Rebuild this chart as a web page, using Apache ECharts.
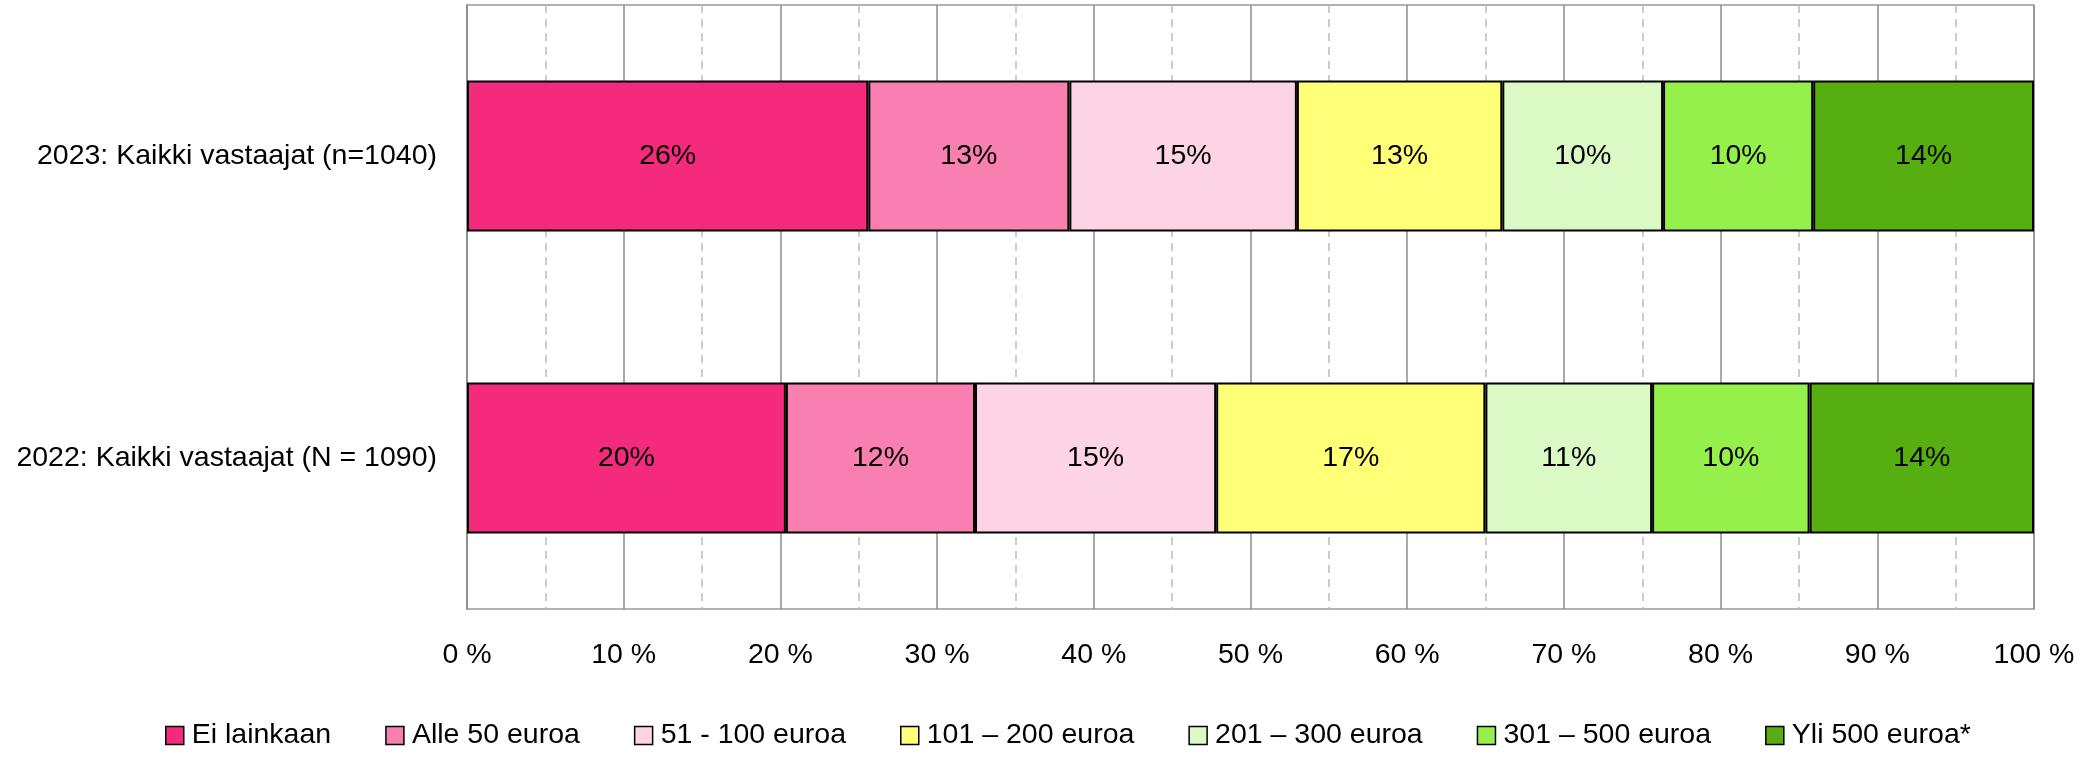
<!DOCTYPE html>
<html>
<head>
<meta charset="utf-8">
<script src="https://cdn.jsdelivr.net/npm/echarts@6/dist/echarts.min.js"></script>
<style>
html,body{margin:0;padding:0;background:#fff;}
#chart{width:2098px;height:758px;}
</style>
</head>
<body>
<div id="chart"></div>
<script>
const categories = ['2023: Kaikki vastaajat (n=1040)', '2022: Kaikki vastaajat (N = 1090)'];
const seriesNames = ['Ei lainkaan', 'Alle 50 euroa', '51 - 100 euroa', '101 – 200 euroa', '201 – 300 euroa', '301 – 500 euroa', 'Yli 500 euroa*'];
const eiLainkaan = [25.61, 20.35];
const alle50 = [12.83, 12.07];
const e51_100 = [14.52, 15.39];
const e101_200 = [13.11, 17.18];
const e201_300 = [10.26, 10.64];
const e301_500 = [9.58, 10.05];
const yli500 = [14.09, 14.32];
const xTicks = [0, 10, 20, 30, 40, 50, 60, 70, 80, 90, 100];
const colors = ['#F42A7C', '#F87FB0', '#FDD3E6', '#FFFF78', '#DBF9C4', '#95F04C', '#56AE10'];

const seriesValues = [eiLainkaan, alle50, e51_100, e101_200, e201_300, e301_500, yli500];
const FONT = '"Liberation Sans", Arial, sans-serif';
const FS = 28.5;

const chart = echarts.init(document.getElementById('chart'), null, {renderer: 'canvas'});
chart.setOption({
  animation: false,
  textStyle: {fontFamily: FONT},
  grid: {
    left: 467, right: 64, top: 5, bottom: 149,
    show: true, borderColor: '#999', borderWidth: 1.5, backgroundColor: '#fff'
  },
  legend: {
    left: 160, bottom: 3,
    itemWidth: 18, itemHeight: 18, itemGap: 54,
    icon: 'rect',
    textStyle: {fontFamily: FONT, fontSize: FS, color: '#000', padding: [0, 0, 0, 3]},
    itemStyle: {borderColor: '#000', borderWidth: 1.5},
    data: seriesNames
  },
  xAxis: {
    type: 'value', min: xTicks[0], max: xTicks[xTicks.length - 1], interval: 10,
    axisLine: {show: false},
    axisTick: {show: false},
    axisLabel: {fontFamily: FONT, fontSize: FS, color: '#000', margin: 32, formatter: '{value} %'},
    splitLine: {show: true, lineStyle: {color: '#8c8c8c', width: 1.5}},
    minorTick: {show: false, splitNumber: 2},
    minorSplitLine: {show: true, lineStyle: {color: '#bdbdbd', width: 1.5, type: [8, 6]}}
  },
  yAxis: {
    type: 'category', data: categories, inverse: true,
    axisLine: {show: true, lineStyle: {color: '#8c8c8c', width: 1.5}},
    axisTick: {show: false},
    axisLabel: {fontFamily: FONT, fontSize: FS, color: '#000', margin: 30}
  },
  series: seriesNames.map((name, i) => ({
    name: name,
    type: 'bar',
    stack: 'total',
    barWidth: '50%',
    data: seriesValues[i],
    itemStyle: {color: colors[i], borderColor: '#000', borderWidth: 2},
    label: {
      show: true, position: 'inside', color: '#000',
      fontFamily: FONT, fontSize: FS,
      formatter: p => Math.round(p.value) + '%'
    }
  }))
});
</script>
</body>
</html>
